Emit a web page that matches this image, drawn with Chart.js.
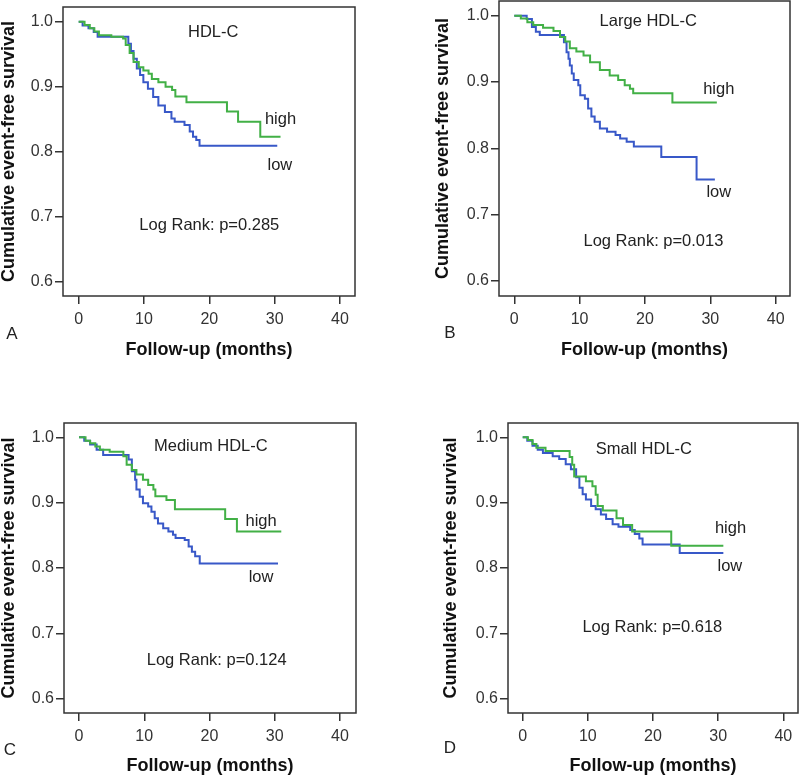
<!DOCTYPE html>
<html>
<head>
<meta charset="utf-8">
<script src="https://cdn.jsdelivr.net/npm/chart.js@4.4.1/dist/chart.umd.min.js"></script>
<style>
  html, body { margin: 0; padding: 0; background: #fff; }
  #wrap { position: relative; width: 800px; height: 777px; }
  canvas { position: absolute; }
</style>
</head>
<body>
<div id="wrap">
  <canvas id="cA" width="400" height="390" style="left:0;top:0"></canvas>
  <canvas id="cB" width="400" height="390" style="left:400px;top:0"></canvas>
  <canvas id="cC" width="400" height="387" style="left:0;top:390px"></canvas>
  <canvas id="cD" width="400" height="387" style="left:400px;top:390px"></canvas>
</div>
<script>
// tick labels
const monthTicks = [0, 10, 20, 30, 40];
const survivalTicks = [0.6, 0.7, 0.8, 0.9, 1.0];

const panelLetters = ['A', 'B', 'C', 'D'];
const panelTitles = ['HDL-C', 'Large HDL-C', 'Medium HDL-C', 'Small HDL-C'];
const pValues = ['0.285', '0.013', '0.124', '0.618'];

// A: HDL-C
const hdlHighT = [0, 0.9, 1.7, 2.4, 3.1, 5.0, 6.8, 7.2, 7.8, 8.4, 9.2, 9.9, 10.7, 11.2, 12.2, 13.3, 14.3, 14.8, 16.5, 22.7, 24.4, 27.8, 30.9];
const hdlHighS = [1.0, 0.995, 0.99, 0.985, 0.979, 0.977, 0.974, 0.964, 0.952, 0.938, 0.93, 0.925, 0.92, 0.912, 0.907, 0.9, 0.895, 0.885, 0.876, 0.862, 0.846, 0.823, 0.823];
const hdlLowT = [0, 0.6, 1.5, 2.3, 2.9, 7.6, 8.0, 8.4, 8.9, 9.4, 9.9, 10.6, 11.4, 12.2, 13.2, 14.2, 14.7, 16.2, 17.0, 17.5, 18.0, 18.5, 30.4];
const hdlLowS = [1.0, 0.994, 0.99, 0.984, 0.977, 0.966, 0.955, 0.943, 0.928, 0.918, 0.907, 0.897, 0.884, 0.871, 0.861, 0.851, 0.846, 0.841, 0.831, 0.823, 0.818, 0.809, 0.809];

// B: Large HDL-C
const largeHighT = [0, 1.0, 2.0, 2.9, 4.4, 6.0, 7.0, 7.8, 8.5, 9.5, 10.6, 11.6, 13.1, 14.6, 15.9, 16.9, 17.7, 18.2, 24.2, 31.0];
const largeHighS = [1.0, 0.996, 0.99, 0.986, 0.982, 0.977, 0.968, 0.961, 0.951, 0.946, 0.94, 0.93, 0.918, 0.91, 0.903, 0.895, 0.89, 0.883, 0.869, 0.869];
const largeLowT = [0, 1.9, 2.7, 3.3, 3.9, 7.6, 8.0, 8.3, 8.5, 8.8, 9.1, 9.8, 10.1, 10.8, 11.3, 11.8, 12.3, 13.1, 14.2, 15.5, 16.2, 17.2, 18.3, 22.5, 27.9, 30.7];
const largeLowS = [1.0, 0.995, 0.983, 0.976, 0.971, 0.96, 0.945, 0.935, 0.925, 0.913, 0.903, 0.895, 0.88, 0.875, 0.86, 0.848, 0.84, 0.83, 0.825, 0.82, 0.815, 0.81, 0.803, 0.787, 0.753, 0.753];

// C: Medium HDL-C
const mediumHighT = [0, 1.0, 1.7, 2.5, 3.2, 4.7, 6.8, 7.3, 8.1, 8.8, 9.8, 10.6, 11.4, 11.7, 13.4, 14.7, 22.4, 24.2, 31.0];
const mediumHighS = [1.0, 0.995, 0.991, 0.986, 0.981, 0.978, 0.971, 0.958, 0.95, 0.943, 0.935, 0.927, 0.92, 0.91, 0.904, 0.89, 0.875, 0.856, 0.856];
const mediumLowT = [0, 0.8, 1.7, 2.7, 3.7, 7.6, 8.1, 8.6, 8.8, 9.3, 9.8, 10.6, 11.1, 11.6, 12.1, 12.9, 13.7, 14.4, 14.8, 16.2, 16.8, 17.3, 17.8, 18.5, 30.5];
const mediumLowS = [1.0, 0.995, 0.989, 0.981, 0.973, 0.966, 0.948, 0.935, 0.92, 0.909, 0.899, 0.894, 0.886, 0.876, 0.868, 0.861, 0.856, 0.851, 0.846, 0.843, 0.833, 0.825, 0.818, 0.807, 0.807];

// D: Small HDL-C
const smallHighT = [0, 0.8, 1.5, 2.1, 3.5, 7.2, 7.6, 7.9, 9.7, 10.7, 11.2, 11.5, 12.3, 14.4, 15.4, 16.8, 22.8, 30.8];
const smallHighS = [1.0, 0.996, 0.99, 0.984, 0.979, 0.97, 0.958, 0.94, 0.933, 0.925, 0.912, 0.895, 0.888, 0.876, 0.866, 0.856, 0.834, 0.834];
const smallLowT = [0, 0.7, 1.5, 2.3, 3.1, 4.6, 5.6, 6.6, 7.4, 8.2, 8.7, 9.2, 9.7, 10.5, 11.2, 12.0, 12.8, 13.8, 14.7, 16.5, 17.2, 17.9, 18.4, 24.1, 30.8];
const smallLowS = [1.0, 0.995, 0.987, 0.981, 0.976, 0.971, 0.967, 0.959, 0.951, 0.939, 0.923, 0.913, 0.905, 0.895, 0.89, 0.882, 0.875, 0.867, 0.863, 0.858, 0.852, 0.845, 0.836, 0.823, 0.823];

const FONT = '"Liberation Sans", Arial, sans-serif';
const GREEN = '#42b046';
const BLUE = '#3858c8';

// layout of each panel (canvas px) and where the labels sit (data units)
const panels = [
  { id: 'cA', H: 390, box: { l: 63, t: 7, r: 355, b: 296 }, x: [-2.4, 42.3], y: [0.578, 1.0226],
    yPad: 0, xPad: 31, letterAt: [12, 334],
    high: [hdlHighT, hdlHighS], low: [hdlLowT, hdlLowS],
    titleAt: [20.6, 0.984], highAt: [30.9, 0.849], lowAt: [30.8, 0.779], rankAt: [20.0, 0.686] },
  { id: 'cB', H: 390, box: { l: 99, t: 1, r: 390, b: 296 }, x: [-2.34, 42.2], y: [0.5774, 1.0222],
    yPad: 34.5, xPad: 31, letterAt: [50, 333],
    high: [largeHighT, largeHighS], low: [largeLowT, largeLowS],
    titleAt: [20.5, 0.991], highAt: [31.3, 0.889], lowAt: [31.3, 0.733], rankAt: [21.3, 0.66] },
  { id: 'cC', H: 387, box: { l: 64, t: 33, r: 356, b: 323 }, x: [-2.3, 42.45], y: [0.578, 1.022],
    yPad: 0, xPad: 1.5, letterAt: [10, 360],
    high: [mediumHighT, mediumHighS], low: [mediumLowT, mediumLowS],
    titleAt: [20.2, 0.986], highAt: [27.9, 0.872], lowAt: [27.9, 0.785], rankAt: [21.1, 0.659] },
  { id: 'cD', H: 387, box: { l: 108, t: 33, r: 398, b: 323 }, x: [-2.26, 42.26], y: [0.578, 1.022],
    yPad: 42.5, xPad: 1.5, letterAt: [50, 358],
    high: [smallHighT, smallHighS], low: [smallLowT, smallLowS],
    titleAt: [18.6, 0.982], highAt: [31.9, 0.861], lowAt: [31.8, 0.802], rankAt: [19.9, 0.709] }
];

// box around plot area + text labels
const notesPlugin = {
  id: 'notes',
  afterDraw(chart, args, opts) {
    const { ctx, chartArea: a } = chart;
    const xs = chart.scales.x, ys = chart.scales.y;
    ctx.save();
    ctx.strokeStyle = '#333';
    ctx.lineWidth = 1.5;
    ctx.strokeRect(a.left, a.top, a.right - a.left, a.bottom - a.top);
    ctx.fillStyle = '#222';
    ctx.textAlign = 'center';
    ctx.textBaseline = 'middle';
    ctx.font = '16.5px ' + FONT;
    opts.labels.forEach(l => {
      ctx.fillText(l.text, xs.getPixelForValue(l.at[0]), ys.getPixelForValue(l.at[1]));
    });
    ctx.font = '17px ' + FONT;
    ctx.fillText(opts.letter, opts.letterAt[0], opts.letterAt[1]);
    ctx.restore();
  }
};

function toPoints(T, S) {
  return T.map((t, i) => ({ x: t, y: S[i] }));
}

panels.forEach((p, i) => {
  const W = 400;
  new Chart(document.getElementById(p.id), {
    type: 'line',
    data: {
      datasets: [
        { label: 'high', data: toPoints(p.high[0], p.high[1]), borderColor: GREEN, borderWidth: 2, stepped: 'before', pointRadius: 0 },
        { label: 'low', data: toPoints(p.low[0], p.low[1]), borderColor: BLUE, borderWidth: 2, stepped: 'before', pointRadius: 0 }
      ]
    },
    options: {
      responsive: false,
      animation: false,
      layout: { padding: { left: 0, top: p.box.t, right: W - p.box.r, bottom: 0 } },
      plugins: {
        legend: { display: false },
        tooltip: { enabled: false },
        notes: {
          letter: panelLetters[i],
          letterAt: p.letterAt,
          labels: [
            { text: panelTitles[i], at: p.titleAt },
            { text: 'high', at: p.highAt },
            { text: 'low', at: p.lowAt },
            { text: 'Log Rank: p=' + pValues[i], at: p.rankAt }
          ]
        }
      },
      scales: {
        x: {
          type: 'linear',
          min: p.x[0], max: p.x[1],
          afterFit: s => { s.height = p.H - p.box.b; s.paddingLeft = 0; s.paddingRight = 0; },
          afterBuildTicks: s => { s.ticks = monthTicks.map(v => ({ value: v })); },
          border: { display: false },
          grid: { drawOnChartArea: false, drawTicks: true, tickLength: 8, color: '#333', lineWidth: 1.5 },
          ticks: { color: '#333', padding: 6, maxRotation: 0, font: { size: 16, family: FONT }, callback: v => v },
          title: { display: true, text: 'Follow-up (months)', color: '#111',
                   font: { size: 18, weight: 'bold', family: FONT, lineHeight: 1 },
                   padding: { top: 0, bottom: p.xPad } }
        },
        y: {
          type: 'linear',
          min: p.y[0], max: p.y[1],
          afterFit: s => { s.width = p.box.l; s.paddingTop = 0; s.paddingBottom = 0; },
          afterBuildTicks: s => { s.ticks = survivalTicks.map(v => ({ value: v })); },
          border: { display: false },
          grid: { drawOnChartArea: false, drawTicks: true, tickLength: 8, color: '#333', lineWidth: 1.5 },
          ticks: { color: '#333', padding: 2, font: { size: 16, family: FONT }, callback: v => v.toFixed(1) },
          title: { display: true, text: 'Cumulative event-free survival', color: '#111',
                   font: { size: 18, weight: 'bold', family: FONT, lineHeight: 1 },
                   padding: { top: p.yPad, bottom: 0 } }
        }
      }
    },
    plugins: [notesPlugin]
  });
});
</script>
</body>
</html>
